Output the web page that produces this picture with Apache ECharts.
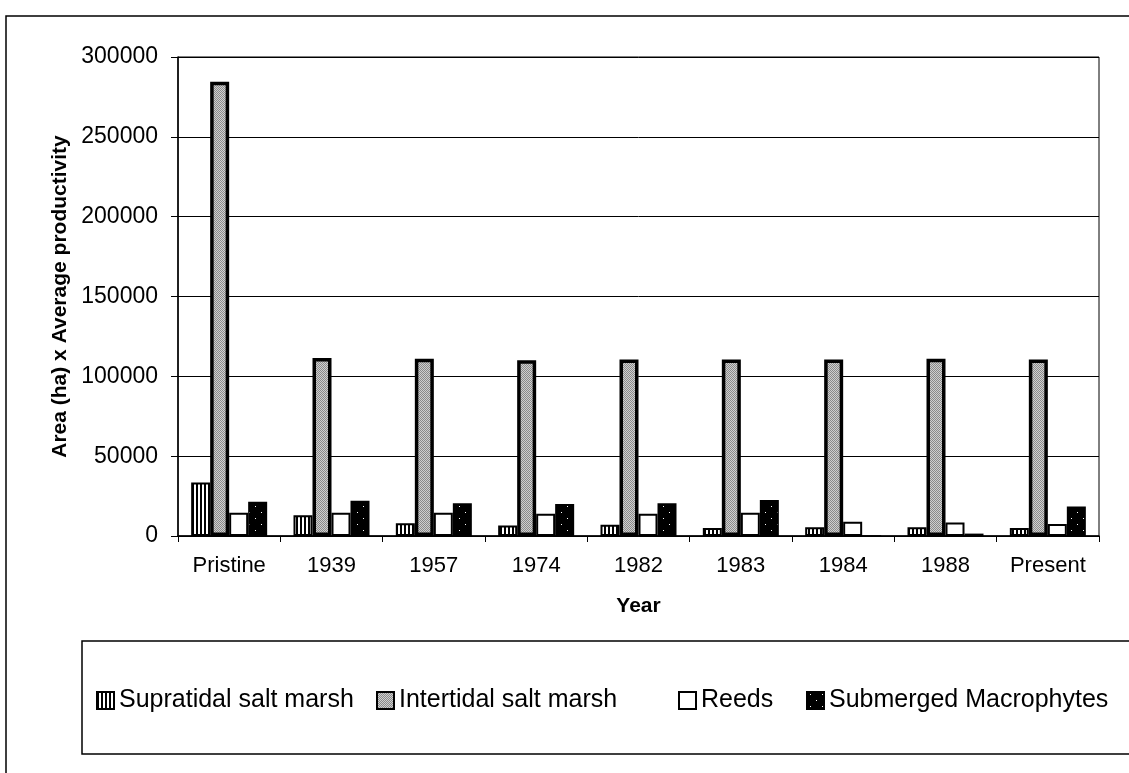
<!DOCTYPE html>
<html>
<head>
<meta charset="utf-8">
<title>Area x productivity</title>
<script src="https://cdn.jsdelivr.net/npm/echarts@6/dist/echarts.min.js"></script>
<style>
  html, body { margin: 0; padding: 0; background: #fff; }
  #chart { width: 1129px; height: 773px; }
</style>
</head>
<body>
<div id="chart"></div>
<script>
// x axis categories
var years = ['Pristine', '1939', '1957', '1974', '1982', '1983', '1984', '1988', 'Present'];
// series values
var supratidal = [33500, 13000, 8000, 6500, 7000, 5000, 5500, 5500, 5000];
var intertidal = [284500, 111500, 111000, 110000, 110500, 110500, 110500, 111000, 110500];
var reeds = [14500, 14500, 14500, 14000, 14000, 14500, 9000, 8500, 7500];
var submerged = [21500, 22000, 20500, 20000, 20500, 22500, 0, 1500, 18500];
var seriesNames = ['Supratidal salt marsh', 'Intertidal salt marsh', 'Reeds', 'Submerged Macrophytes'];
// y axis ticks
var yMin = 0, yMax = 300000, yStep = 50000;

var FONT = '"Liberation Sans", Arial, sans-serif';

// small fill patterns, like the b/w print
function pattern(w, h, bg, fg, dots) {
  var c = document.createElement('canvas');
  c.width = w; c.height = h;
  var g = c.getContext('2d');
  g.fillStyle = bg;
  g.fillRect(0, 0, w, h);
  g.fillStyle = fg;
  dots.forEach(function (d) { g.fillRect(d[0], d[1], d[2] || 1, d[3] || 1); });
  return { image: c, repeat: 'repeat' };
}
var stripes = pattern(4, 4, '#ffffff', '#000000', [[0, 0, 2, 4]]);
var speckle = pattern(2, 2, '#cfcfcf', '#8a8a8a', [[0, 0], [1, 1]]);
var dotted = pattern(12, 12, '#000000', '#ffffff', [[3, 2], [9, 8]]);

var chart = echarts.init(document.getElementById('chart'));

function bar(name, data, fill, bw) {
  return {
    name: name,
    type: 'bar',
    data: data,
    barWidth: 19,
    barGap: '0%',
    itemStyle: { color: fill, borderColor: '#000', borderWidth: bw },
    emphasis: { disabled: true }
  };
}

function legendItem(name, left) {
  return {
    data: [name],
    left: left,
    top: 688,
    padding: 0,
    itemWidth: 17,
    itemHeight: 17,
    icon: 'rect',
    textStyle: { fontFamily: FONT, fontSize: 25, color: '#000' }
  };
}

var option = {
  animation: false,
  backgroundColor: '#fff',
  grid: {
    left: 178, right: 30, top: 57, bottom: 237,
    show: true, borderColor: '#000', borderWidth: 1
  },
  legend: [
    legendItem(seriesNames[0], 96),
    legendItem(seriesNames[1], 376),
    legendItem(seriesNames[2], 678),
    legendItem(seriesNames[3], 806)
  ],
  xAxis: {
    type: 'category',
    data: years,
    name: 'Year',
    nameLocation: 'middle',
    nameGap: 60,
    nameTextStyle: { fontFamily: FONT, fontSize: 21, fontWeight: 'bold', color: '#000' },
    axisLine: { lineStyle: { color: '#000', width: 1.5 } },
    axisTick: { show: true, length: 6, lineStyle: { color: '#000' } },
    axisLabel: { fontFamily: FONT, fontSize: 22, color: '#000', margin: 19 }
  },
  yAxis: {
    type: 'value',
    min: yMin,
    max: yMax,
    interval: yStep,
    name: 'Area (ha) x Average productivity',
    nameLocation: 'middle',
    nameGap: 106,
    nameTextStyle: { fontFamily: FONT, fontSize: 21, fontWeight: 'bold', color: '#000' },
    axisLine: { show: true, lineStyle: { color: '#000', width: 1.5 } },
    axisTick: { show: true, length: 7, lineStyle: { color: '#000' } },
    axisLabel: {
      fontFamily: FONT, fontSize: 23, color: '#000', margin: 20,
      formatter: function (v) { return String(v); }
    },
    splitLine: { lineStyle: { color: '#000', width: 1 } }
  },
  graphic: [
    { type: 'rect', silent: true, shape: { x: 6, y: 16, width: 1140, height: 780 },
      style: { fill: 'none', stroke: '#000', lineWidth: 1.5 } },
    { type: 'rect', silent: true, shape: { x: 82, y: 641, width: 1100, height: 113 },
      style: { fill: 'none', stroke: '#000', lineWidth: 1.5 } }
  ],
  series: [
    bar(seriesNames[0], supratidal, stripes, 2),
    bar(seriesNames[1], intertidal, speckle, 3.5),
    bar(seriesNames[2], reeds, '#ffffff', 2),
    bar(seriesNames[3], submerged, dotted, 1.5)
  ]
};

chart.setOption(option);
</script>
</body>
</html>
